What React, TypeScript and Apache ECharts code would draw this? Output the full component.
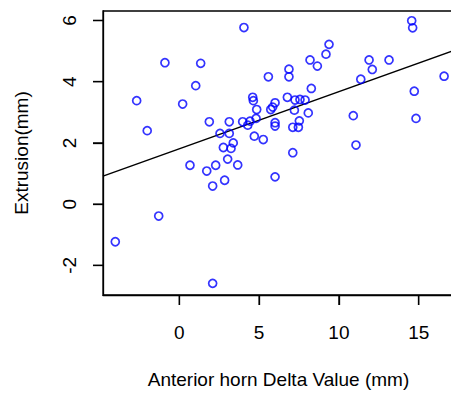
import React, { useEffect, useRef } from "react";
import * as echarts from "echarts";

// Anterior horn Delta Value (mm)
const deltaValues: number[] = [
  -4.01, -1.29, 2.09, -2.67, -2.01, -0.9, 0.21, 1.03, 1.34, 4.05,
  0.67, 1.72, 2.28, 3.03, 3.66, 2.09, 2.84, 1.88, 3.13, 3.97,
  4.43, 4.29, 4.6, 4.64, 4.85, 4.81, 2.55, 3.13, 3.38, 2.76,
  3.24, 4.7, 5.26, 5.58, 6.87, 6.87, 8.19, 8.65, 9.38, 9.19,
  8.27, 6.77, 7.25, 7.56, 7.88, 6.0, 5.73, 5.85, 7.21, 8.08,
  6.0, 6.0, 7.52, 7.11, 7.46, 7.11, 6.0, 10.9, 11.07, 11.37,
  11.89, 12.09, 13.14, 14.56, 14.62, 14.72, 14.83, 16.59,
];

// Extrusion (mm)
const extrusionValues: number[] = [
  -1.23, -0.39, -2.59, 3.38, 2.4, 4.62, 3.27, 3.87, 4.6, 5.77,
  1.27, 1.08, 1.27, 1.47, 1.28, 0.59, 0.78, 2.69, 2.69, 2.69,
  2.71, 2.58, 3.49, 3.38, 3.09, 2.8, 2.31, 2.31, 2.0, 1.85,
  1.82, 2.22, 2.11, 4.16, 4.41, 4.16, 4.71, 4.51, 5.22, 4.9,
  3.78, 3.49, 3.4, 3.42, 3.4, 3.31, 3.09, 3.17, 3.07, 2.98,
  2.66, 2.55, 2.72, 2.51, 2.51, 1.68, 0.89, 2.89, 1.93, 4.08,
  4.71, 4.4, 4.71, 5.99, 5.76, 3.69, 2.8, 4.18,
];

// Fitted regression line endpoints
const regLineX: number[] = [-4.78, 17.21];
const regLineY: number[] = [0.915, 5.02];

const xTicks: number[] = [0, 5, 10, 15];
const yTicks: number[] = [-2, 0, 2, 4, 6];

const X_MIN = -4.78;
const X_MAX = 17.21;
const Y_MIN = -2.97;
const Y_MAX = 6.31;

const FONT = "'Liberation Sans', Arial, Helvetica, sans-serif";

export default function App() {
  const ref = useRef<HTMLDivElement>(null);

  useEffect(() => {
    document.body.style.margin = "0";
    if (!ref.current) return;
    const chart = echarts.init(ref.current, undefined, { renderer: "svg" });
    const points = deltaValues.map((x, i) => [x, extrusionValues[i]]);
    const line = regLineX.map((x, i) => [x, regLineY[i]]);
    const xTickData = xTicks.map((v) => [v, Y_MIN]);
    const yTickData = yTicks.map((v) => [X_MIN, v]);
    const TICK = 10;
    chart.setOption({
      animation: false,
      grid: {
        left: 103,
        top: 11,
        right: -3,
        bottom: 98,
        show: true,
        borderColor: "#000",
        borderWidth: 1.3,
        containLabel: false,
        outerBoundsMode: "none",
      },
      xAxis: {
        type: "value",
        min: X_MIN,
        max: X_MAX,
        name: "Anterior horn Delta Value (mm)",
        nameLocation: "middle",
        nameGap: 75,
        nameTextStyle: { color: "#000", fontSize: 19, fontFamily: FONT },
        axisLine: { show: true, onZero: false, lineStyle: { color: "#000", width: 1.3 } },
        axisTick: {
          show: true,
          length: TICK,
          customValues: xTicks,
          lineStyle: { color: "#000", width: 1.3 },
        },
        axisLabel: {
          customValues: xTicks,
          margin: 28,
          color: "#000",
          fontSize: 19,
          fontFamily: FONT,
        },
        splitLine: { show: false },
      },
      yAxis: {
        type: "value",
        min: Y_MIN,
        max: Y_MAX,
        name: "Extrusion(mm)",
        nameLocation: "middle",
        nameGap: 72,
        nameRotate: 90,
        nameTextStyle: { color: "#000", fontSize: 19, fontFamily: FONT },
        axisLine: { show: true, onZero: false, lineStyle: { color: "#000", width: 1.3 } },
        axisTick: {
          show: true,
          length: TICK,
          customValues: yTicks,
          lineStyle: { color: "#000", width: 1.3 },
        },
        axisLabel: {
          customValues: yTicks,
          rotate: 90,
          margin: 24,
          color: "#000",
          fontSize: 19,
          fontFamily: FONT,
        },
        splitLine: { show: false },
      },
      series: [
        {
          type: "line",
          data: line,
          symbol: "none",
          clip: false,
          lineStyle: { color: "#000", width: 1.4 },
          silent: true,
          z: 1,
        },
        {
          type: "scatter",
          data: points,
          symbol: "circle",
          symbolSize: 8,
          clip: false,
          itemStyle: {
            color: "rgba(0,0,0,0)",
            borderColor: "#0000ff",
            borderWidth: 1.7,
          },
          z: 2,
        },
        {
          // x-axis tick marks, placed through the axis scale
          type: "custom",
          silent: true,
          clip: false,
          z: 5,
          encode: { x: 0, y: 1 },
          data: xTickData,
          renderItem: (_params: any, api: any) => {
            const p = api.coord([api.value(0), api.value(1)]);
            return {
              type: "line",
              shape: { x1: p[0], y1: p[1], x2: p[0], y2: p[1] + TICK },
              style: { stroke: "#000", lineWidth: 1.3 },
            };
          },
        },
        {
          // y-axis tick marks, placed through the axis scale
          type: "custom",
          silent: true,
          clip: false,
          z: 5,
          encode: { x: 0, y: 1 },
          data: yTickData,
          renderItem: (_params: any, api: any) => {
            const p = api.coord([api.value(0), api.value(1)]);
            return {
              type: "line",
              shape: { x1: p[0] - TICK, y1: p[1], x2: p[0], y2: p[1] },
              style: { stroke: "#000", lineWidth: 1.3 },
            };
          },
        },
      ],
    });
    return () => chart.dispose();
  }, []);

  return <div ref={ref} style={{ width: 451, height: 393, background: "#fff" }} />;
}
